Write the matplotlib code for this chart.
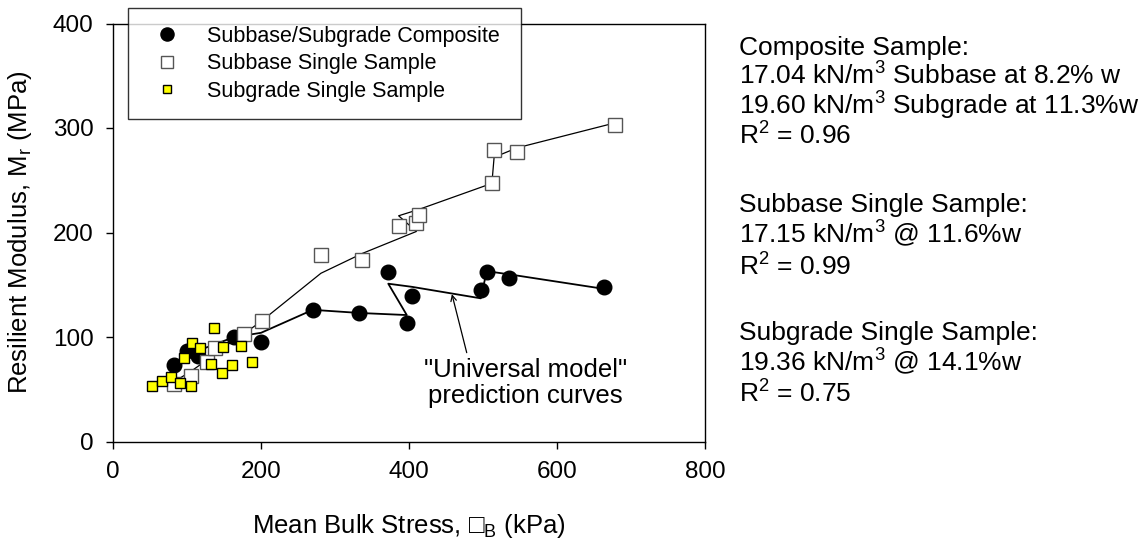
import matplotlib
matplotlib.use("Agg")
import matplotlib.pyplot as plt

plt.rcParams['font.family'] = ['Liberation Sans', 'DejaVu Sans']
plt.rcParams['mathtext.fontset'] = 'custom'
plt.rcParams['mathtext.rm'] = 'Liberation Sans'
plt.rcParams['mathtext.it'] = 'Liberation Sans'

# composite sample: measured and "universal model" predicted (in test order)
comp_stress = [82, 100, 115, 164, 200, 270, 333, 397, 372, 404, 497, 505, 535, 664]
comp_mr = [73, 87, 82, 100, 95, 126, 123, 113, 162, 139, 145, 162, 156, 148]
comp_pred = [72, 82, 87, 100, 104, 126, 123, 121, 151, 148, 137, 163, 160, 146]

# subbase single sample
sb_stress = [82, 105, 127, 138, 177, 202, 281, 337, 410, 386, 413, 512, 515, 546, 679]
sb_mr = [55, 63, 76, 89, 103, 115, 178, 174, 209, 206, 217, 247, 279, 277, 303]
sb_pred = [57, 67, 78, 85, 103, 116, 161, 180, 201, 216, 222, 247, 272, 281, 305]

# subgrade single sample
sg_stress = [53, 66, 79, 91, 106, 96, 107, 117, 133, 147, 148, 161, 173, 137, 188]
sg_mr = [53, 58, 62, 56, 53, 80, 94, 89, 74, 66, 90, 73, 91, 109, 76]

x_ticks = [0, 200, 400, 600, 800]
y_ticks = [0, 100, 200, 300, 400]

W, H = 1146, 548
fig = plt.figure(figsize=(W / 100, H / 100), dpi=100)
ax = fig.add_axes([113 / W, 1 - 441.5 / H, 592 / W, 418 / H])

ax.plot(sb_stress, sb_pred, color='black', lw=0.9, zorder=2)
ax.plot(comp_stress, comp_pred, color='black', lw=1.3, zorder=2)

ax.plot(comp_stress, comp_mr, 'o', ms=10.5, color='black', ls='none',
        label='Subbase/Subgrade Composite', zorder=3)
ax.plot(sb_stress, sb_mr, 's', ms=9.5, mfc='white', mec='#555555', mew=1.0,
        ls='none', label='Subbase Single Sample', zorder=4)
ax.plot(sg_stress, sg_mr, 's', ms=6.6, mfc='#ffff00', mec='black', mew=1.0,
        ls='none', label='Subgrade Single Sample', zorder=5)

ax.set_xlim(0, 800)
ax.set_ylim(0, 400)
ax.set_xticks(x_ticks)
ax.set_yticks(y_ticks)
ax.tick_params(direction='out', length=5, width=1, labelsize=17.5, pad=9)
for s in ax.spines.values():
    s.set_linewidth(1.0)

ax.set_xlabel('Mean Bulk Stress, \u25a1$_B$ (kPa)', fontsize=18.5, labelpad=21)
ax.set_ylabel('Resilient Modulus, M$_r$ (MPa)', fontsize=18.5, labelpad=13.5)

leg = ax.legend(loc='upper left', bbox_to_anchor=(15 / 592, 1.036, 393 / 592, 0),
                mode='expand', fontsize=15.5, frameon=True, fancybox=False,
                edgecolor='black', borderpad=0.8, handletextpad=0.85,
                labelspacing=0.3, markerscale=0.9, borderaxespad=0)
leg.get_frame().set_linewidth(1.0)
leg.set_zorder(6)

ax.annotate('', xy=(458, 141), xytext=(478, 85),
            arrowprops=dict(arrowstyle='->', color='black', lw=0.9,
                            shrinkA=0, shrinkB=0))
ax.text(557, 56, '"Universal model"\nprediction curves', ha='center', va='center',
        fontsize=18.5, linespacing=1.15)

# notes on the right (baseline pixel rows)
notes = [
    ('Composite Sample:', 55),
    ('17.04 kN/m$^3$ Subbase at 8.2% w', 85),
    ('19.60 kN/m$^3$ Subgrade at 11.3%w', 115),
    ('R$^2$ = 0.96', 145),
    ('Subbase Single Sample:', 212),
    ('17.15 kN/m$^3$ @ 11.6%w', 243),
    ('R$^2$ = 0.99', 276),
    ('Subgrade Single Sample:', 340),
    ('19.36 kN/m$^3$ @ 14.1%w', 371),
    ('R$^2$ = 0.75', 403),
]
for txt, ypx in notes:
    fig.text(739 / W, 1 - ypx / H, txt, fontsize=19, va='baseline', ha='left')

fig.savefig('out.png', dpi=100)
